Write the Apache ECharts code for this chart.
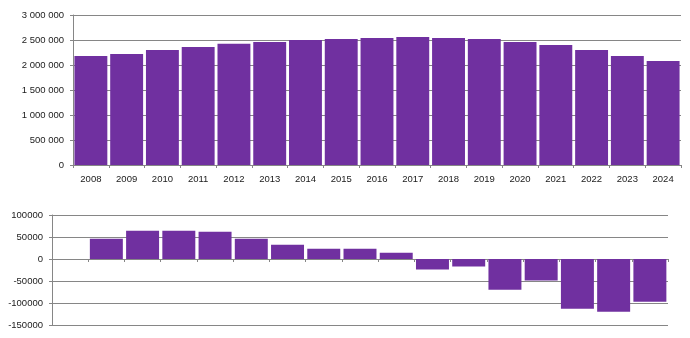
<!DOCTYPE html>
<html>
<head>
<meta charset="utf-8">
<script src="https://cdn.jsdelivr.net/npm/echarts@6/dist/echarts.min.js"></script>
<style>
  html, body { margin: 0; padding: 0; background: #fff; }
  #chart { width: 690px; height: 338px; }
</style>
</head>
<body>
<div id="chart"></div>
<script>
// Years shown on both panels
const years = ['2008','2009','2010','2011','2012','2013','2014','2015','2016',
               '2017','2018','2019','2020','2021','2022','2023','2024'];

// Upper panel: total per year
const totals = [2180000, 2220000, 2300000, 2360000, 2427000, 2460000, 2500000, 2520000, 2540000,
                2560000, 2540000, 2520000, 2460000, 2400000, 2300000, 2180000, 2080000];

// Lower panel: year-on-year change (no value for the first year)
const changes = [null, 46000, 64000, 64000, 62000, 46000, 32500, 23500, 23500,
                 14000, -24000, -17000, -70000, -49000, -113000, -120000, -97000];

const barColor = '#7030A0';
const lineColor = '#868686';
const textColor = '#1a1a1a';
const font = 'Liberation Sans';

// Thousands separated by a space
const spaced = v => String(v).replace(/\B(?=(\d{3})+(?!\d))/g, ' ');
// Plain integer, no grouping
const plain = v => String(v);

const chart = echarts.init(document.getElementById('chart'), null, { renderer: 'canvas' });

const axisLine = { show: true, lineStyle: { color: lineColor, width: 1 } };
const axisTick = { show: true, length: 3, lineStyle: { color: lineColor, width: 1 } };
const splitLine = { show: true, lineStyle: { color: lineColor, width: 1 } };

chart.setOption({
  animation: false,
  backgroundColor: '#ffffff',
  grid: [
    { left: 73, right: 9, top: 15, bottom: 173, containLabel: false },
    { left: 52, right: 22, top: 215, bottom: 13, containLabel: false }
  ],
  xAxis: [
    {
      gridIndex: 0, type: 'category', data: years,
      axisLine, axisTick: Object.assign({ alignWithLabel: false }, axisTick),
      axisLabel: { color: textColor, fontFamily: font, fontSize: 9.5, margin: 9, interval: 0 },
      splitLine: { show: false }
    },
    {
      gridIndex: 1, type: 'category', data: years,
      axisLine: Object.assign({ onZero: true }, axisLine),
      axisTick: Object.assign({ alignWithLabel: false }, axisTick),
      axisLabel: { show: false },
      splitLine: { show: false }
    }
  ],
  yAxis: [
    {
      gridIndex: 0, type: 'value', min: 0, max: 3000000, interval: 500000,
      axisLine, axisTick, splitLine,
      axisLabel: { color: textColor, fontFamily: font, fontSize: 9.5, margin: 9, formatter: spaced }
    },
    {
      gridIndex: 1, type: 'value', min: -150000, max: 100000, interval: 50000,
      axisLine, axisTick, splitLine,
      axisLabel: { color: textColor, fontFamily: font, fontSize: 9.5, margin: 9, formatter: plain }
    }
  ],
  series: [
    {
      type: 'bar', xAxisIndex: 0, yAxisIndex: 0, data: totals,
      itemStyle: { color: barColor }, barCategoryGap: '8%'
    },
    {
      type: 'bar', xAxisIndex: 1, yAxisIndex: 1, data: changes,
      itemStyle: { color: barColor }, barCategoryGap: '9%'
    }
  ]
});
</script>
</body>
</html>
